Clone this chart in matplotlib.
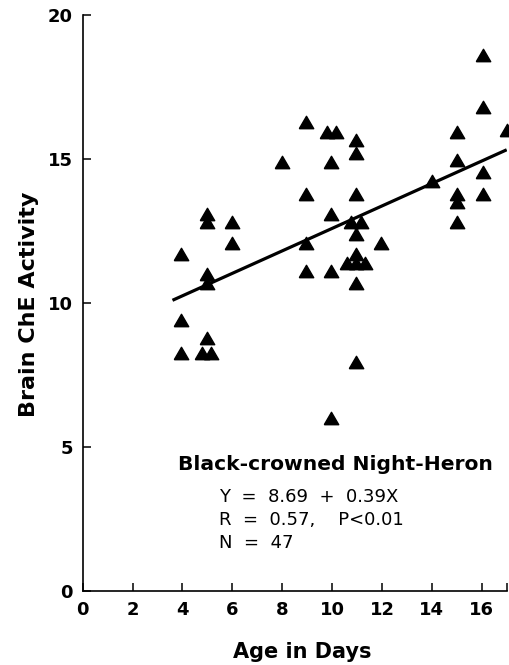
import matplotlib
matplotlib.use("Agg")
import matplotlib.pyplot as plt
import numpy as np

# Data
age_days = [3.95, 3.95, 3.95,
            5.0, 5.0, 5.0, 5.0, 5.0, 4.8, 5.15,
            6.0, 6.0,
            8.0,
            8.95, 8.95, 8.95, 8.95,
            9.8, 10.15, 9.95, 9.95, 9.95, 9.95,
            10.95, 10.95, 10.95, 10.75, 11.15, 10.95, 10.95, 10.6, 10.95, 11.3, 10.95, 10.95,
            11.95,
            14.0,
            15.0, 15.0, 15.0, 15.0, 15.0,
            16.05, 16.05, 16.05, 16.05,
            17.0]
che_activity = [11.7, 9.4, 8.25,
                13.1, 12.8, 11.0, 10.7, 8.8, 8.25, 8.25,
                12.8, 12.1,
                14.9,
                16.3, 13.8, 12.1, 11.1,
                15.95, 15.95, 14.9, 13.1, 11.1, 6.0,
                15.65, 15.2, 13.8, 12.8, 12.8, 12.4, 11.7, 11.4, 11.4, 11.4, 10.7, 7.95,
                12.1,
                14.25,
                15.95, 14.95, 13.8, 13.5, 12.8,
                18.6, 16.8, 14.55, 13.8,
                16.0]

intercept = 8.69
slope = 0.39
fit_range = [3.6, 17.0]

x_ticks = [0, 2, 4, 6, 8, 10, 12, 14, 16]
y_ticks = [0, 5, 10, 15, 20]

W, H = 509, 665
fig = plt.figure(figsize=(W / 100, H / 100), dpi=100)
left, right, bottom, top = 82.7, 506.7, 591, 15
ax = fig.add_axes([left / W, 1 - bottom / H, (right - left) / W, (bottom - top) / H])

tri = [(-1, -0.86), (1, -0.86), (0, 0.86), (-1, -0.86)]
ax.plot(age_days, che_activity, linestyle='none', marker=tri, markersize=10.4,
        color='black', clip_on=False, zorder=3)

fx = np.array(fit_range)
ax.plot(fx, intercept + slope * fx, color='black', linewidth=2.3, solid_capstyle='butt', zorder=2)

ax.set_xlim(0, 17)
ax.set_ylim(0, 20)
ax.set_xticks(x_ticks + [17])
ax.set_xticklabels([str(t) for t in x_ticks] + [''])
ax.set_yticks(y_ticks)
ax.set_yticklabels([str(t) for t in y_ticks])

for s in ['top', 'right']:
    ax.spines[s].set_visible(False)
for s in ['left', 'bottom']:
    ax.spines[s].set_linewidth(1.2)

ax.tick_params(direction='in', length=6, width=1.1, pad=7)
for lab in ax.get_xticklabels() + ax.get_yticklabels():
    lab.set_fontfamily('DejaVu Sans')
    lab.set_fontweight('bold')
    lab.set_fontsize(13)

fig.text(302 / W, 1 - 652 / H, 'Age in Days', ha='center', va='center',
         fontsize=15, fontweight='bold', family='DejaVu Sans')
fig.text(29 / W, 1 - 304 / H, 'Brain ChE Activity', ha='center', va='center', rotation=90,
         fontsize=16, fontweight='bold', family='DejaVu Sans')

fig.text(335.5 / W, 1 - 470 / H, 'Black-crowned Night-Heron', ha='center', va='baseline',
         fontsize=14.6, fontweight='bold', family='DejaVu Sans')
fig.text(219 / W, 1 - 501.7 / H, 'Y  =  8.69  +  0.39X', ha='left', va='baseline',
         fontsize=13, family='DejaVu Sans')
fig.text(219 / W, 1 - 525 / H, 'R  =  0.57,    P<0.01', ha='left', va='baseline',
         fontsize=13, family='DejaVu Sans')
fig.text(219 / W, 1 - 548.3 / H, 'N  =  47', ha='left', va='baseline',
         fontsize=13, family='DejaVu Sans')

fig.savefig('out.png', dpi=100)
